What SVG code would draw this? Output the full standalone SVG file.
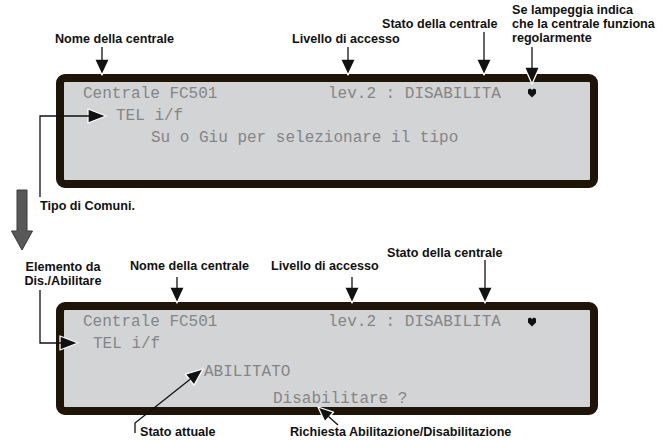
<svg xmlns="http://www.w3.org/2000/svg" width="669" height="441" viewBox="0 0 669 441">
<style>
.lbl{font-family:"Liberation Sans",Arial,sans-serif;font-weight:bold;font-size:12.6px;fill:#111}
.lcd{fill:#d3d4d6;stroke:#1f1408;stroke-width:8}
.lt{font-family:"Liberation Mono","DejaVu Sans Mono",monospace;font-size:16px;fill:#858585;white-space:pre}
.ln{fill:none;stroke:#111;stroke-width:1.3}
.ah{fill:#111;stroke:#fff;stroke-width:1.3;stroke-linejoin:round}
.ht{fill:#111}
</style>
<rect width="669" height="441" fill="#fff"/>
<g id="lcd-top">
<rect class="lcd" x="60" y="78" width="534" height="106" rx="5"/>
<text class="lt" x="83" y="98">Centrale FC501</text>
<text class="lt" x="328" y="98">lev.2 : DISABILITA</text>
<path class="ht" d="M532,97.5 L528,93.5 L528,89.5 L530.3,88.5 L532,90 L533.7,88.5 L536,89.5 L536,93.5 Z"/>
<text class="lt" x="116" y="120">TEL i/f</text>
<text class="lt" x="151" y="142">Su o Giu per selezionare il tipo</text>
</g>
<g id="lcd-bottom">
<rect class="lcd" x="60" y="306" width="534" height="105" rx="5"/>
<text class="lt" x="83" y="326">Centrale FC501</text>
<text class="lt" x="328" y="326">lev.2 : DISABILITA</text>
<path class="ht" d="M532,326.5 L528,322.5 L528,318.5 L530.3,317.5 L532,319 L533.7,317.5 L536,318.5 L536,322.5 Z"/>
<text class="lt" x="93" y="348">TEL i/f</text>
<text class="lt" x="204" y="376">ABILITATO</text>
<text class="lt" x="273" y="403">Disabilitare ?</text>
</g>
<g id="labels-top">
<text class="lbl" x="55" y="43">Nome della centrale</text>
<text class="lbl" x="292" y="43">Livello di accesso</text>
<text class="lbl" x="382" y="28">Stato della centrale</text>
<text class="lbl" x="512" y="14">Se lampeggia indica</text>
<text class="lbl" x="512" y="28">che la centrale funziona</text>
<text class="lbl" x="512" y="42">regolarmente</text>
<text class="lbl" x="40" y="210">Tipo di Comuni.</text>
</g>
<g id="labels-bottom">
<text class="lbl" x="63" y="271" text-anchor="middle">Elemento da</text>
<text class="lbl" x="63" y="285" text-anchor="middle">Dis./Abilitare</text>
<text class="lbl" x="130" y="270">Nome della centrale</text>
<text class="lbl" x="271" y="270">Livello di accesso</text>
<text class="lbl" x="387" y="257">Stato della centrale</text>
<text class="lbl" x="140" y="436">Stato attuale</text>
<text class="lbl" x="290" y="436">Richiesta Abilitazione/Disabilitazione</text>
</g>
<g id="connectors">
<path class="ah" d="M94.5,59 L109.5,59 L102,75 Z"/>
<line class="ln" x1="102" y1="47" x2="102" y2="60"/>
<path class="ah" d="M340.5,59 L355.5,59 L348,75 Z"/>
<line class="ln" x1="348" y1="47" x2="348" y2="60"/>
<path class="ah" d="M476.5,59 L491.5,59 L484,75 Z"/>
<line class="ln" x1="484" y1="32" x2="484" y2="60"/>
<path class="ah" d="M524.5,67 L539.5,67 L532,84 Z"/>
<line class="ln" x1="532" y1="47" x2="532" y2="68"/>
<path class="ah" d="M88,109 L106,116 L88,123 Z"/>
<polyline class="ln" points="40,197 40,116 89,116"/>
<path class="ah" d="M169.5,287 L184.5,287 L177,303 Z"/>
<line class="ln" x1="177" y1="277" x2="177" y2="288"/>
<path class="ah" d="M344.5,287 L359.5,287 L352,303 Z"/>
<line class="ln" x1="352" y1="277" x2="352" y2="288"/>
<path class="ah" d="M477.5,287 L492.5,287 L485,303 Z"/>
<line class="ln" x1="485" y1="260" x2="485" y2="288"/>
<path class="ah" d="M60,336 L78,343 L60,350 Z"/>
<polyline class="ln" points="40,290 40,343 61,343"/>
<path class="ah" d="M185.3,374.1 L203,369 L194.1,385.1 Z"/>
<polyline class="ln" points="135,433 135,423 190.5,379"/>
<path class="ah" d="M333.5,412.2 L318,407 L324.8,421.8 Z"/>
<line class="ln" x1="338" y1="425" x2="328.5" y2="416.5"/>
<path d="M17,190 L27,190 L27,231 L32.5,231 L22,250 L11.5,231 L17,231 Z" fill="#585858" stroke="#3a3a3a" stroke-width="1"/>
</g>
</svg>
